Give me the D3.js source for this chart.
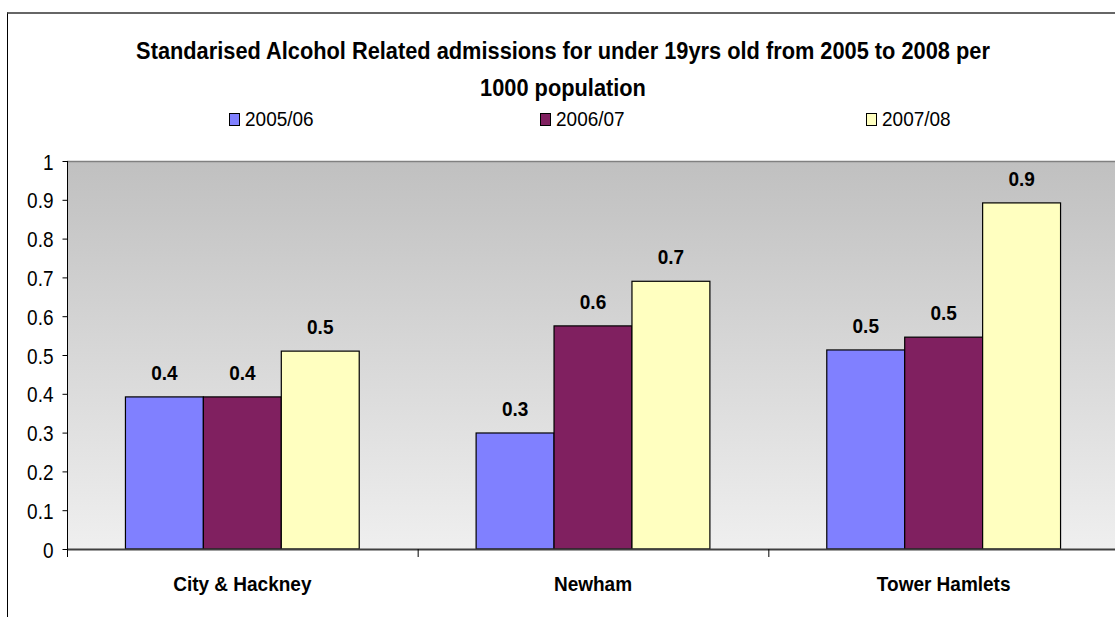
<!DOCTYPE html>
<html><head><meta charset="utf-8">
<script src="https://cdn.jsdelivr.net/npm/d3@7"></script>
<style>body{margin:0;background:#fff}svg{display:block}</style>
</head><body>
<svg id="c" width="1115" height="617"></svg>
<script>
const categories = ["City & Hackney", "Newham", "Tower Hamlets"];
const series = ["2005/06", "2006/07", "2007/08"];
const values2005 = [0.392, 0.299, 0.513];
const values2006 = [0.392, 0.575, 0.546];
const values2007 = [0.510, 0.690, 0.892];
const colors = ["#8080FF", "#802060", "#FFFFC0"];
const yTicks = [0, 0.1, 0.2, 0.3, 0.4, 0.5, 0.6, 0.7, 0.8, 0.9, 1];
const titleLines = ["Standarised Alcohol Related admissions for under 19yrs old from 2005 to 2008 per", "1000 population"];

const allValues = [values2005, values2006, values2007];
const svg = d3.select("#c");
const font = "Liberation Sans, Arial, sans-serif";

const pLeft = 67, pRight = 1119, pTop = 161, pBottom = 549;
const x0 = d3.scaleBand().domain(categories).range([pLeft, pRight]).paddingInner(0).paddingOuter(0);
const x1 = d3.scaleBand().domain(series).range([0, x0.bandwidth()]).paddingInner(0).paddingOuter(0.75);
const y = d3.scaleLinear().domain([0, 1]).range([pBottom, pTop]);

// frame
svg.append("line").attr("x1", 7.5).attr("x2", 7.5).attr("y1", 12.5).attr("y2", 617).attr("stroke", "#000").attr("stroke-width", 1);
svg.append("line").attr("x1", 7).attr("x2", 1115).attr("y1", 13).attr("y2", 13).attr("stroke", "#333").attr("stroke-width", 1.5);

// plot background gradient
const defs = svg.append("defs");
const g = defs.append("linearGradient").attr("id", "bg").attr("x1", 0).attr("x2", 0).attr("y1", 0).attr("y2", 1);
g.append("stop").attr("offset", "0%").attr("stop-color", "#c0c0c0");
g.append("stop").attr("offset", "100%").attr("stop-color", "#efefef");
svg.append("rect").attr("x", pLeft).attr("y", pTop).attr("width", pRight - pLeft).attr("height", pBottom - pTop).attr("fill", "url(#bg)");
svg.append("line").attr("x1", pLeft).attr("x2", 1115).attr("y1", pTop + 0.5).attr("y2", pTop + 0.5).attr("stroke", "#808080").attr("stroke-width", 1.5);

// bars
const groups = svg.append("g").selectAll("g").data(categories).join("g")
  .attr("transform", d => `translate(${x0(d)},0)`);
series.forEach((s, si) => {
  groups.append("rect")
    .attr("x", x1(s)).attr("width", x1.bandwidth())
    .attr("y", (d, ci) => y(allValues[si][ci]))
    .attr("height", (d, ci) => y(0) - y(allValues[si][ci]))
    .attr("fill", colors[si]).attr("stroke", "#000").attr("stroke-width", 1.2);
  groups.append("text")
    .attr("transform", (d, ci) => `translate(${x1(s) + x1.bandwidth() / 2},${y(allValues[si][ci]) - 17}) scale(1,1.05)`)
    .attr("text-anchor", "middle").attr("font-family", font).attr("font-weight", "bold").attr("font-size", 19)
    .attr("fill", "#000")
    .text((d, ci) => d3.format(".1f")(allValues[si][ci]));
});

// x axis
svg.append("line").attr("x1", pLeft).attr("x2", 1115).attr("y1", pBottom + 0.5).attr("y2", pBottom + 0.5).attr("stroke", "#404040").attr("stroke-width", 2);
categories.forEach((c, i) => {
  const xb = x0(c);
  svg.append("line").attr("x1", xb + 0.5).attr("x2", xb + 0.5).attr("y1", pBottom).attr("y2", pBottom + 8).attr("stroke", "#000").attr("stroke-width", 1);
  svg.append("text")
    .attr("transform", `translate(${xb + x0.bandwidth() / 2},${pBottom + 42}) scale(1,1.05)`)
    .attr("text-anchor", "middle").attr("font-family", font).attr("font-weight", "bold").attr("font-size", 19)
    .text(c);
});

// y axis
const ya = svg.append("g").attr("transform", `translate(${pLeft + 0.5},0)`)
  .call(d3.axisLeft(y).tickValues(yTicks).tickSize(5).tickPadding(9).tickFormat(d3.format("")));
ya.select(".domain").attr("stroke", "#000").attr("d", `M0,${pTop}V${pBottom + 8}`);
ya.selectAll(".tick line").attr("stroke", "#000");
ya.selectAll(".tick text").attr("font-family", font).attr("font-size", 19).attr("fill", "#000")
  .attr("dy", null).attr("dominant-baseline", "central").attr("transform", "scale(1,1.15)");

// title
titleLines.forEach((t, i) => {
  svg.append("text")
    .attr("transform", `translate(563,${59 + i * 37}) scale(1,1.12)`)
    .attr("text-anchor", "middle").attr("font-family", font).attr("font-weight", "bold").attr("font-size", 21.8)
    .text(t);
});

// legend
const legX = [229, 540, 866];
series.forEach((s, i) => {
  svg.append("rect").attr("x", legX[i] + 0.5).attr("y", 113.5).attr("width", 10).attr("height", 12)
    .attr("fill", colors[i]).attr("stroke", "#000").attr("stroke-width", 1);
  svg.append("text")
    .attr("transform", `translate(${legX[i] + 16},126) scale(1,1.1)`)
    .attr("font-family", font).attr("font-size", 19).text(s);
});
</script>
</body></html>
